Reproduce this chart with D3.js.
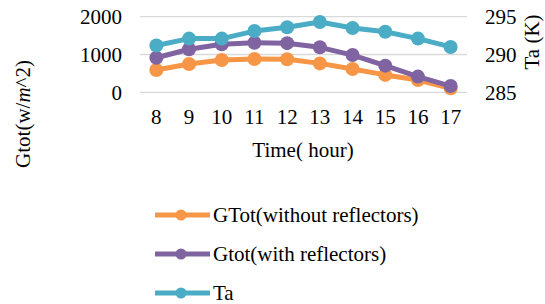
<!DOCTYPE html>
<html>
<head>
<meta charset="utf-8">
<script src="https://cdn.jsdelivr.net/npm/d3@7"></script>
<style>
  body { margin: 0; background: #fff; }
  svg text { font-family: "Liberation Serif", "Times New Roman", serif; fill: #000; }
</style>
</head>
<body>
<svg id="chart" width="545" height="304"></svg>
<script>
const hours = ["8", "9", "10", "11", "12", "13", "14", "15", "16", "17"];
const gtotWithout = [590, 750, 855, 880, 875, 765, 615, 460, 325, 105];
const gtotWith = [915, 1140, 1270, 1310, 1300, 1190, 985, 705, 415, 165];
const ta = [291.2, 292.1, 292.1, 293.1, 293.6, 294.3, 293.5, 293.0, 292.1, 291.0];
const leftTicks = [0, 1000, 2000];
const rightTicks = [285, 290, 295];

const series = [
  { name: "GTot(without reflectors)", values: gtotWithout, color: "#F79646", axis: "left" },
  { name: "Gtot(with reflectors)", values: gtotWith, color: "#8064A2", axis: "left" },
  { name: "Ta", values: ta, color: "#4BACC6", axis: "right" },
];

const SVG = d3.select("#chart");
const LEFT = 140, RIGHT = 467, TOP = 16.7, BOTTOM = 92.3;
const FONT = 21;

const X = d3.scaleBand().domain(hours).range([LEFT, RIGHT]);
const Y_LEFT = d3.scaleLinear().domain([0, 2000]).range([BOTTOM, TOP]);
const Y_RIGHT = d3.scaleLinear().domain([285, 295]).range([BOTTOM, TOP]);

// gridlines
SVG.append("g")
  .selectAll("line")
  .data(leftTicks)
  .join("line")
  .attr("x1", LEFT)
  .attr("x2", RIGHT)
  .attr("y1", (d) => Y_LEFT(d))
  .attr("y2", (d) => Y_LEFT(d))
  .attr("stroke", "#d9d9d9")
  .attr("stroke-width", 1.3);

// left axis
const Y_AXIS_L = d3
  .axisLeft(Y_LEFT)
  .tickValues(leftTicks)
  .tickFormat(d3.format("d"))
  .tickSize(0)
  .tickPadding(18);
const Y_AXIS_L_G = SVG.append("g").attr("transform", `translate(${LEFT},0)`).call(Y_AXIS_L);
Y_AXIS_L_G.select(".domain").remove();

// right axis
const Y_AXIS_R = d3.axisRight(Y_RIGHT).tickValues(rightTicks).tickSize(0).tickPadding(18);
const Y_AXIS_R_G = SVG.append("g").attr("transform", `translate(${RIGHT},0)`).call(Y_AXIS_R);
Y_AXIS_R_G.select(".domain").remove();

// x axis
const X_AXIS = d3.axisBottom(X).tickSize(0).tickPadding(17);
const X_AXIS_G = SVG.append("g").attr("transform", `translate(0,${BOTTOM})`).call(X_AXIS);
X_AXIS_G.select(".domain").remove();

[Y_AXIS_L_G, Y_AXIS_R_G, X_AXIS_G].forEach((g) =>
  g.attr("font-family", null).attr("font-size", FONT)
);

// titles
SVG.append("text")
  .attr("x", 303)
  .attr("y", 157)
  .attr("text-anchor", "middle")
  .attr("font-size", FONT)
  .text("Time( hour)");

const yTitle = SVG.append("text")
  .attr("transform", "translate(30,114) rotate(-90)")
  .attr("text-anchor", "middle")
  .attr("font-size", FONT);
yTitle.append("tspan").text("Gtot(w/");
yTitle.append("tspan").attr("font-style", "italic").text("m");
yTitle.append("tspan").text("^2)");

SVG.append("text")
  .attr("transform", "translate(539,42) rotate(-90)")
  .attr("text-anchor", "middle")
  .attr("font-size", FONT)
  .text("Ta (K)");

// lines + markers
series.forEach((s) => {
  const yScale = s.axis === "left" ? Y_LEFT : Y_RIGHT;
  const cx = (d, i) => X(hours[i]) + X.bandwidth() / 2;
  const line = d3.line().x(cx).y((d) => yScale(d));
  const g = SVG.append("g");
  g.append("path")
    .datum(s.values)
    .attr("d", line)
    .attr("fill", "none")
    .attr("stroke", s.color)
    .attr("stroke-width", 5)
    .attr("stroke-linejoin", "round");
  g.selectAll("circle")
    .data(s.values)
    .join("circle")
    .attr("cx", cx)
    .attr("cy", (d) => yScale(d))
    .attr("r", 7)
    .attr("fill", s.color);
});

// legend
const LEGEND = SVG.append("g");
series.forEach((s, i) => {
  const y = 215 + i * 39;
  LEGEND.append("line")
    .attr("x1", 155)
    .attr("x2", 210)
    .attr("y1", y)
    .attr("y2", y)
    .attr("stroke", s.color)
    .attr("stroke-width", 5);
  LEGEND.append("circle")
    .attr("cx", 181)
    .attr("cy", y)
    .attr("r", 5.5)
    .attr("fill", s.color);
  LEGEND.append("text")
    .attr("x", 213)
    .attr("y", y + 7)
    .attr("font-size", FONT)
    .text(s.name);
});
</script>
</body>
</html>
